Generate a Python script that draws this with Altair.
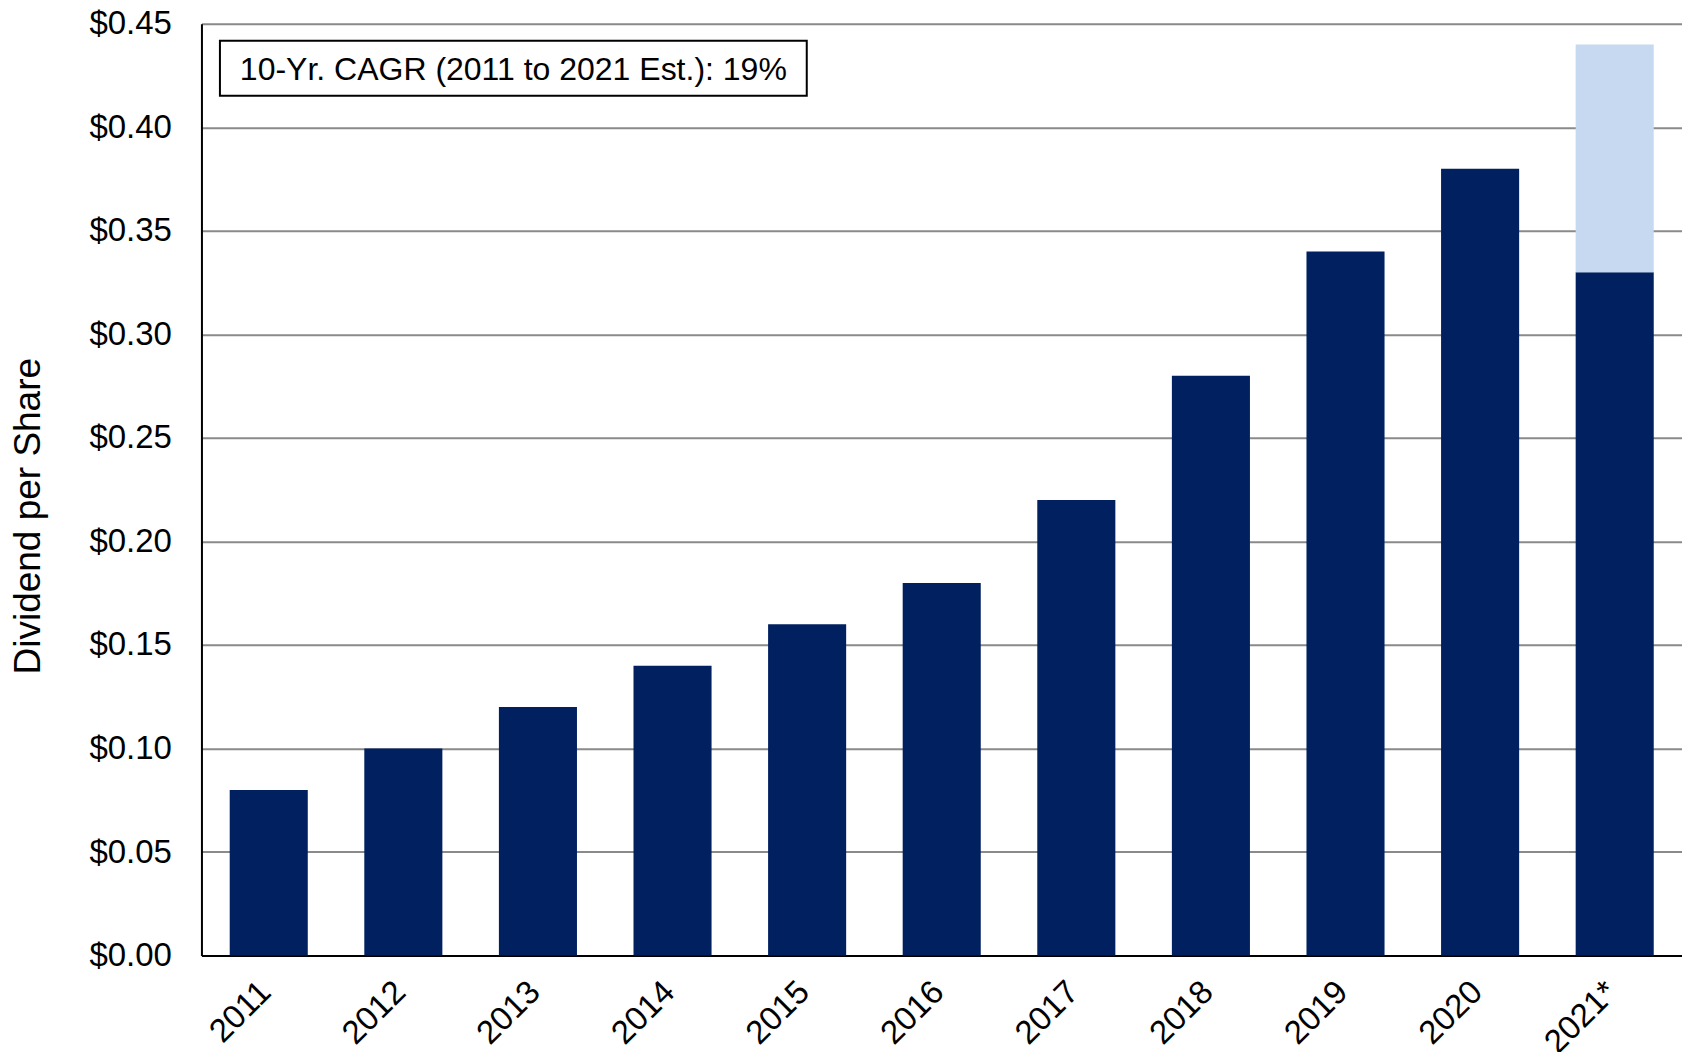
import altair as alt
import pandas as pd

years = ["2011", "2012", "2013", "2014", "2015", "2016", "2017", "2018", "2019", "2020", "2021*"]
paid = [0.08, 0.10, 0.12, 0.14, 0.16, 0.18, 0.22, 0.28, 0.34, 0.38, 0.33]
estimate = [0, 0, 0, 0, 0, 0, 0, 0, 0, 0, 0.11]
y_ticks = [0.0, 0.05, 0.10, 0.15, 0.20, 0.25, 0.30, 0.35, 0.40, 0.45]
note = "10-Yr. CAGR (2011 to 2021 Est.): 19%"

rows = []
for y, p, e in zip(years, paid, estimate):
    rows.append({"year": y, "value": p, "part": "Paid", "ord": 0})
    if e > 0:
        rows.append({"year": y, "value": e, "part": "Estimate", "ord": 1})
df = pd.DataFrame(rows)

FONT = "Liberation Sans"

bars = alt.Chart(df).mark_bar(stroke=None).encode(
    x=alt.X("year:N", sort=years,
            scale=alt.Scale(paddingInner=0.42, paddingOuter=0.21),
            axis=alt.Axis(title=None, labelAngle=315, labelAlign="right",
                          labelBaseline="middle", labelPadding=31, labelOffset=-3,
                          labelFontSize=33, labelColor="#000000", labelFont=FONT,
                          ticks=False, domainColor="#000000", domainWidth=2,
                          grid=False)),
    y=alt.Y("value:Q", stack="zero",
            scale=alt.Scale(domain=[0, 0.45], nice=False, zero=True),
            axis=alt.Axis(title="Dividend per Share", values=y_ticks, format="$.2f",
                          labelFontSize=33, labelColor="#000000", labelFont=FONT,
                          labelPadding=30, ticks=False,
                          domainColor="#000000", domainWidth=2,
                          grid=True, gridColor="#8a8a8a", gridWidth=2,
                          titleFontSize=37, titleFont=FONT, titleFontWeight="normal",
                          titleColor="#000000", titleAngle=270, titleAlign="center",
                          titleBaseline="middle", titleX=-173, titleY=492)),
    color=alt.Color("part:N",
                    scale=alt.Scale(domain=["Paid", "Estimate"], range=["#002060", "#C6D9F0"]),
                    legend=None),
    order=alt.Order("ord:Q"),
)

box = alt.Chart(df).mark_rect(fill="white", stroke="black", strokeWidth=2).encode(
    x=alt.value(18.5), x2=alt.value(605.5), y=alt.value(17), y2=alt.value(72)
).transform_filter(alt.datum.ord == 1)

txt = alt.Chart(df).mark_text(fontSize=32, font=FONT, color="black",
                              align="center", baseline="middle").encode(
    x=alt.value(312), y=alt.value(46), text=alt.value(note)
).transform_filter(alt.datum.ord == 1)

chart = alt.layer(bars, box, txt).properties(
    width=1481, height=932,
    autosize=alt.AutoSizeParams(type="none"),
    padding={"left": 193.5, "top": 15.7, "right": 0, "bottom": 96},
).configure_view(stroke=None).configure(background="white")

chart.save("out.html", embed_options={"renderer": "svg", "actions": False})
